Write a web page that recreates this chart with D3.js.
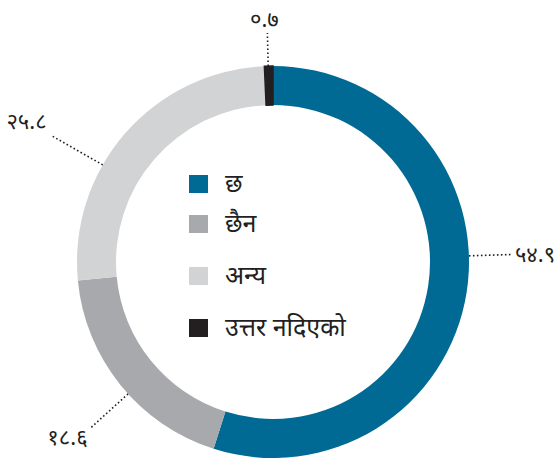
<!DOCTYPE html>
<html>
<head>
<meta charset="utf-8">
<script src="https://cdn.jsdelivr.net/npm/d3@7"></script>
<style>
  body { margin: 0; background: #fff; }
  text { font-family: "Noto Sans", "Noto Sans Devanagari", sans-serif; fill: #231f20; }
</style>
</head>
<body>
<svg id="chart"></svg>
<script>
// categories and values (percent)
var categories = ["छ", "छैन", "अन्य", "उत्तर नदिएको"];
var values = [54.9, 18.6, 25.8, 0.7];
var colors = ["#006a94", "#a7a9ac", "#d1d3d4", "#231f20"];
// where each leader line leaves the ring (degrees clockwise from top)
var labelAngles = [88.2, 227.7, 299.7, 358.6];

var width = 560, height = 462;
var cx = 273, cy = 262, outerR = 196, innerR = 157;

var svg = d3.select("#chart")
    .attr("width", width)
    .attr("height", height);

var g = svg.append("g")
    .attr("transform", `translate(${cx}, ${cy})`);

var data = categories.map(function(c, i) { return {name: c, value: values[i], color: colors[i], angle: labelAngles[i]}; });

var pie = d3.pie().sort(null).value(function(d) { return d.value; });
var arc = d3.arc().innerRadius(innerR).outerRadius(outerR);

g.selectAll("path")
    .data(pie(data))
    .enter()
    .append("path")
      .attr("d", arc)
      .attr("fill", function(d) { return d.data.color; })
      .attr("stroke", function(d) { return d.data.color; })
      .attr("stroke-width", function(d) { return d.data.value < 2 ? 1.5 : 0; });

// devanagari digits
var devDigits = "०१२३४५६७८९";
function toDev(v) {
  return String(v).replace(/[0-9]/g, function(ch) { return devDigits[+ch]; });
}

// leader lines and labels
var leaders = [
  {len: 44, dx: 2, dy: 8, anchor: "start"},
  {len: 52, dx: -2, dy: 16, anchor: "end"},
  {len: 60, dx: -4, dy: -6, anchor: "end"},
  {len: 33, dx: -3, dy: -6, anchor: "middle"}
];

data.forEach(function(d, i) {
  var a = d.angle * Math.PI / 180;
  var ux = Math.sin(a), uy = -Math.cos(a);
  var x1 = outerR * ux, y1 = outerR * uy;
  var x2 = x1 + leaders[i].len * ux, y2 = y1 + leaders[i].len * uy;
  g.append("line")
    .attr("x1", x1).attr("y1", y1)
    .attr("x2", x2).attr("y2", y2)
    .attr("stroke", "#231f20")
    .attr("stroke-width", 1.6)
    .attr("stroke-dasharray", "1.6,2.4");
  g.append("text")
    .attr("x", x2 + leaders[i].dx)
    .attr("y", y2 + leaders[i].dy)
    .attr("text-anchor", leaders[i].anchor)
    .style("font-size", "22px")
    .text(toDev(d.value));
});

// legend
var legendY = [175, 215, 267, 319];
var legend = svg.append("g");
data.forEach(function(d, i) {
  legend.append("rect")
    .attr("x", 189)
    .attr("y", legendY[i])
    .attr("width", 19)
    .attr("height", 18)
    .attr("fill", d.color);
  legend.append("text")
    .attr("x", 225)
    .attr("y", legendY[i] + 17)
    .style("font-size", "25px")
    .text(d.name);
});
</script>
</body>
</html>
